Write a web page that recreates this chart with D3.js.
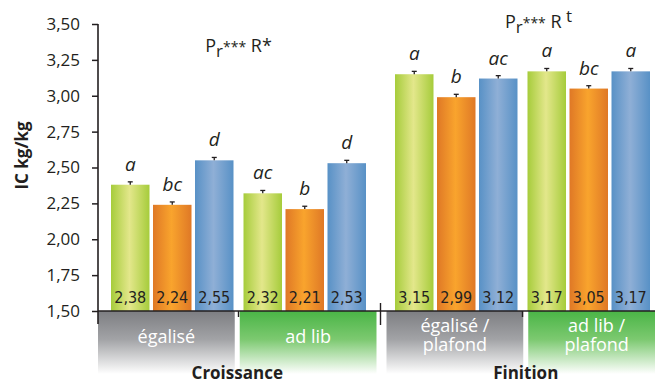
<!DOCTYPE html>
<html>
<head>
<meta charset="utf-8">
<script src="https://cdn.jsdelivr.net/npm/d3@7"></script>
<style>
  html, body { margin: 0; padding: 0; background: #fff; }
  svg { display: block; }
  text { font-family: "Open Sans", "Noto Sans", sans-serif; fill: #231f20; }
  .val { font-family: "DejaVu Sans", sans-serif; font-stretch: condensed; }
</style>
</head>
<body>
<svg id="chart" width="655" height="383"></svg>
<script>
// Phases, feeding plans and the three series plotted in each plan
const sections = ["Croissance", "Finition"];
const groups = ["égalisé", "ad lib", "égalisé / plafond", "ad lib / plafond"];
const groupSection = ["Croissance", "Croissance", "Finition", "Finition"];
const seriesKeys = ["vert", "orange", "bleu"];

// IC kg/kg per plan, one array per series
const vertValues = [2.38, 2.32, 3.15, 3.17];
const orangeValues = [2.24, 2.21, 2.99, 3.05];
const bleuValues = [2.55, 2.53, 3.12, 3.17];

// error bar half-heights
const vertErr = [0.02, 0.02, 0.02, 0.02];
const orangeErr = [0.02, 0.02, 0.02, 0.02];
const bleuErr = [0.02, 0.02, 0.02, 0.02];

// significance letters
const vertLetters = ["a", "ac", "a", "a"];
const orangeLetters = ["bc", "b", "b", "bc"];
const bleuLetters = ["d", "d", "ac", "a"];

// statistics annotation per phase
const statsMain = ["P", "P"];
const statsSub = ["r", "r"];
const statsSup = ["***", "***"];
const statsR = ["R*", "R"];
const statsRSup = ["", "t"];

const yTicks = [1.5, 1.75, 2.0, 2.25, 2.5, 2.75, 3.0, 3.25, 3.5];
const yTitle = "IC kg/kg";

const seriesValues = { vert: vertValues, orange: orangeValues, bleu: bleuValues };
const seriesErr = { vert: vertErr, orange: orangeErr, bleu: bleuErr };
const seriesLetters = { vert: vertLetters, orange: orangeLetters, bleu: bleuLetters };
const seriesGrad = {
  vert:   ["#a6cc3b", "#e3e78b"],
  orange: ["#df7826", "#f9a42d"],
  bleu:   ["#5891c6", "#8fafd6"]
};

const svg = d3.select("#chart");
const comma = v => d3.format(".2f")(v).replace(".", ",");

const y = d3.scaleLinear().domain([1.5, 3.5]).range([311, 24]);
const axisX = 98;

// bar layout: phase -> plan -> series
const sx = d3.scaleBand().domain(sections).range([111, 650]).paddingInner(29 / 284);
const gx = d3.scaleBand().domain([0, 1]).range([0, sx.bandwidth()]).paddingInner(10 / 132.5);
const bx = d3.scaleBand().domain(seriesKeys).range([0, gx.bandwidth()]).paddingInner(3.5 / 42);

// header panel layout under the axis
const psx = d3.scaleBand().domain(sections).range([axisX, 665]).paddingInner(10 / 288.5);
const pgx = d3.scaleBand().domain([0, 1]).range([0, psx.bandwidth()]).paddingInner(5 / 141.75);

const within = i => groups.filter((g, j) => groupSection[j] === groupSection[i]).indexOf(groups[i]);
const groupX = i => sx(groupSection[i]) + gx(within(i));
const panelX = i => psx(groupSection[i]) + pgx(within(i));

const defs = svg.append("defs");
seriesKeys.forEach(k => {
  const g = defs.append("linearGradient").attr("id", "g-" + k)
    .attr("x1", "0%").attr("x2", "100%").attr("y1", "0%").attr("y2", "0%");
  g.append("stop").attr("offset", "0%").attr("stop-color", seriesGrad[k][0]);
  g.append("stop").attr("offset", "48%").attr("stop-color", seriesGrad[k][1]);
  g.append("stop").attr("offset", "100%").attr("stop-color", seriesGrad[k][0]);
});
[["gris", "#7d7e82", "#a2a3a6"], ["vertp", "#4ab546", "#7cc970"]].forEach(([id, c0, c1]) => {
  const g = defs.append("linearGradient").attr("id", "p-" + id)
    .attr("x1", "0%").attr("x2", "0%").attr("y1", "0%").attr("y2", "100%");
  g.append("stop").attr("offset", "0%").attr("stop-color", c0);
  g.append("stop").attr("offset", "45%").attr("stop-color", c1);
  g.append("stop").attr("offset", "100%").attr("stop-color", "#ffffff");
});

// header panels, with one text per label line
const panelTop = y(1.5), panelBottom = 374;
const panels = svg.append("g");
groups.forEach((name, i) => {
  const x0 = panelX(i), w = pgx.bandwidth();
  panels.append("rect")
    .attr("x", x0).attr("y", panelTop).attr("width", w).attr("height", panelBottom - panelTop)
    .attr("fill", within(i) === 0 ? "url(#p-gris)" : "url(#p-vertp)");
  const parts = name.includes("/") ? [name.split(" / ")[0] + " /", name.split(" / ")[1]] : [name];
  const y0 = parts.length === 1 ? 343 : 332;
  parts.forEach((p, j) => {
    panels.append("text")
      .attr("x", x0 + w / 2).attr("y", y0 + j * 19)
      .attr("text-anchor", "middle")
      .style("font-size", "18px").style("fill", "#ffffff")
      .text(p);
  });
});

// phase labels
svg.append("g").selectAll("text").data(sections).join("text")
  .attr("x", d => psx(d) + psx.bandwidth() / 2)
  .attr("y", 379)
  .attr("text-anchor", "middle")
  .style("font-size", "17px").style("font-weight", "bold")
  .text(d => d);

// bars
const barData = [];
groups.forEach((g, i) => seriesKeys.forEach(k => barData.push({
  i, k, v: seriesValues[k][i], e: seriesErr[k][i], l: seriesLetters[k][i]
})));
const bars = svg.append("g");
bars.selectAll("rect").data(barData).join("rect")
  .attr("x", d => groupX(d.i) + bx(d.k))
  .attr("width", bx.bandwidth())
  .attr("y", d => y(d.v))
  .attr("height", d => y(1.5) - y(d.v))
  .attr("fill", d => "url(#g-" + d.k + ")");

// error bars (upper whisker)
const eb = svg.append("g").attr("stroke", "#231f20").attr("stroke-width", 1.3);
barData.forEach(d => {
  const cx = groupX(d.i) + bx(d.k) + bx.bandwidth() / 2;
  eb.append("line").attr("x1", cx).attr("x2", cx).attr("y1", y(d.v)).attr("y2", y(d.v + d.e));
  eb.append("line").attr("x1", cx - 2.5).attr("x2", cx + 2.5).attr("y1", y(d.v + d.e)).attr("y2", y(d.v + d.e));
});

// value labels inside bars
svg.append("g").selectAll("text").data(barData).join("text")
  .attr("class", "val")
  .attr("x", d => groupX(d.i) + bx(d.k) + bx.bandwidth() / 2)
  .attr("y", y(1.5) - 8)
  .attr("text-anchor", "middle")
  .style("font-size", "16px")
  .text(d => comma(d.v));

// significance letters
svg.append("g").selectAll("text").data(barData).join("text")
  .attr("x", d => groupX(d.i) + bx(d.k) + bx.bandwidth() / 2)
  .attr("y", d => y(d.v + d.e) - 11)
  .attr("text-anchor", "middle")
  .style("font-size", "19px").style("font-style", "italic")
  .text(d => d.l);

// statistics annotations
const statY = [52, 28], statDx = [0, 16];
sections.forEach((s, i) => {
  const t = svg.append("text")
    .attr("x", sx(s) + sx.bandwidth() / 2 + statDx[i])
    .attr("y", statY[i])
    .attr("text-anchor", "middle")
    .style("font-size", "18px");
  t.append("tspan").text(statsMain[i]);
  t.append("tspan").attr("dy", 5).style("font-size", "17px").text(statsSub[i]);
  t.append("tspan").attr("dy", -5).style("font-size", "14px").text(statsSup[i]);
  t.append("tspan").text(" " + statsR[i]);
  if (statsRSup[i]) {
    t.append("tspan").attr("dy", -6).style("font-size", "17px").text(" " + statsRSup[i]);
  }
});

// y axis
const yAxis = d3.axisLeft(y).tickValues(yTicks).tickSize(6).tickPadding(12).tickFormat(comma);
const ya = svg.append("g").attr("transform", `translate(${axisX},0)`).call(yAxis);
ya.select(".domain").remove();
ya.selectAll(".tick line").attr("stroke", "#231f20").attr("stroke-width", 1.5);
ya.selectAll(".tick text").style("font-size", "17px")
  .style("font-family", '"Open Sans", "Noto Sans", sans-serif').attr("fill", "#231f20");
svg.append("line")
  .attr("x1", axisX).attr("x2", axisX).attr("y1", y(3.5)).attr("y2", y(1.5) + 13)
  .attr("stroke", "#231f20").attr("stroke-width", 1.6);

// baseline and category separators
svg.append("line")
  .attr("x1", axisX).attr("x2", 655).attr("y1", y(1.5)).attr("y2", y(1.5))
  .attr("stroke", "#231f20").attr("stroke-width", 1.6);
const sepSmall = [
  (groupX(0) + gx.bandwidth() + groupX(1)) / 2,
  (groupX(2) + gx.bandwidth() + groupX(3)) / 2
];
const sepBig = (groupX(1) + gx.bandwidth() + groupX(2)) / 2;
svg.append("g").selectAll("line").data(sepSmall).join("line")
  .attr("x1", d => d).attr("x2", d => d)
  .attr("y1", y(1.5)).attr("y2", y(1.5) + 6)
  .attr("stroke", "#231f20").attr("stroke-width", 1.4);
svg.append("line")
  .attr("x1", sepBig).attr("x2", sepBig)
  .attr("y1", y(1.5) - 8).attr("y2", y(1.5) + 14)
  .attr("stroke", "#231f20").attr("stroke-width", 1.4);

// y title
svg.append("text")
  .attr("transform", `translate(28,${(y(3.5) + y(1.5)) / 2 - 12}) rotate(-90)`)
  .attr("text-anchor", "middle")
  .style("font-size", "17px").style("font-weight", "bold")
  .text(yTitle);
</script>
</body>
</html>
